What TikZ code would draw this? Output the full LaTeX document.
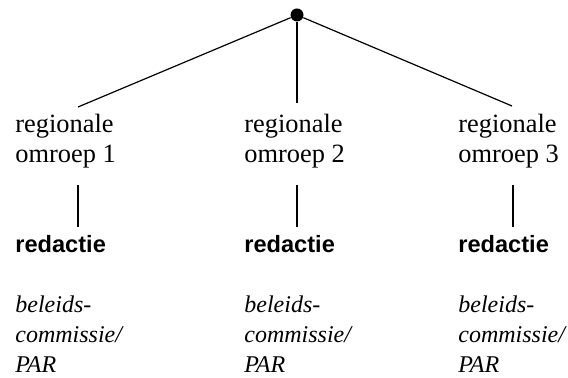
\documentclass[tikz,border=0pt]{standalone}
\usepackage{fontspec}
\setmainfont{Liberation Serif}
\setsansfont{Liberation Sans}
\begin{document}
\begin{tikzpicture}[x=0.5pt,y=-0.5pt,
    omroep/.style={anchor=base west, inner sep=0pt, align=left, font=\fontsize{13.2}{15}\selectfont},
    redactie/.style={anchor=base west, inner sep=0pt, font=\fontsize{11.8}{14}\selectfont\sffamily\bfseries},
    commissie/.style={anchor=base west, inner sep=0pt, align=left, font=\fontsize{12}{15}\selectfont\itshape},
    link/.style={line width=0.6pt}]
        \useasboundingbox (0,0) rectangle (568,378);

        % Draw the top point
        \node[circle, fill, inner sep=0pt, minimum size=6.5pt] (top) at (297,15) {};

        % Label the broadcasters
        \node[omroep] (omroep1) at (15,163) {regionale\\omroep 1};
        \node[omroep] (omroep2) at (244,163) {regionale\\omroep 2};
        \node[omroep] (omroep3) at (458,163) {regionale\\omroep 3};

        % Label the editors
        \node[redactie] (redactie1) at (15,253) {redactie};
        \node[redactie] (redactie2) at (244,253) {redactie};
        \node[redactie] (redactie3) at (458,253) {redactie};

        % Label the committees
        \node[commissie] (commissie1) at (15,373) {beleids-\\commissie/\\PAR};
        \node[commissie] (commissie2) at (244,373) {beleids-\\commissie/\\PAR};
        \node[commissie] (commissie3) at (458,373) {beleids-\\commissie/\\PAR};

        % Line ends
        \coordinate (end1) at (78,107);
        \coordinate (end2) at (297,103);
        \coordinate (end3) at (512,106);
        \coordinate (up1) at (78,185);
        \coordinate (down1) at (78,227);
        \coordinate (up2) at (297,185);
        \coordinate (down2) at (297,227);
        \coordinate (up3) at (513,185);
        \coordinate (down3) at (513,227);

        % Draw the lines to the broadcasters
        \draw[link] (top) -- (end1);
        \draw[link] (top) -- (end2);
        \draw[link] (top) -- (end3);

        % Draw the lines to the editors
        \draw[link] (up1) -- (down1);
        \draw[link] (up2) -- (down2);
        \draw[link] (up3) -- (down3);
    \end{tikzpicture}
\end{document}
